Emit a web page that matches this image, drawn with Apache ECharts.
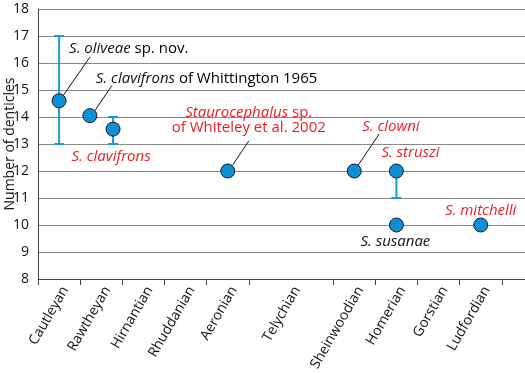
<!DOCTYPE html>
<html><head><meta charset="utf-8">
<script src="https://cdn.jsdelivr.net/npm/echarts@6/dist/echarts.min.js"></script>
<style>html,body{margin:0;padding:0;background:#fff}#c{width:525px;height:373px}</style>
</head><body><div id="c"></div>
<script>
// ---- data ----
var stages = ['Cautleyan','Rawtheyan','Hirnantian','Rhuddanian','Aeronian','Telychian','Sheinwoodian','Homerian','Gorstian','Ludfordian'];
var stageBounds = [0,1,2,3,4,5,7,8,9,10,11];        // stage boundaries (axis units; Telychian spans two)
var stageCenters = [0.5,1.5,2.5,3.5,4.5,6,7.5,8.5,9.5,10.5];
var yTicks = [8,9,10,11,12,13,14,15,16,17,18];
var taxa = ['S. oliveae sp. nov.','S. clavifrons of Whittington 1965','S. clavifrons','Staurocephalus sp. of Whiteley et al. 2002','S. clowni','S. struszi','S. susanae','S. mitchelli'];
var taxonX = [0.5,1.23,1.78,4.5,7.5,8.5,8.5,10.5];
var denticles = [14.6,14.05,13.55,12,12,12,10,10];
var errLow  = [13,null,13,null,null,11,null,null];
var errHigh = [17,null,14,null,null,12,null,null];

// ---- label styling (pixel offsets from the point) ----
var RED = '#ec1c24', BLK = '#111';
var labelStyle = [
  {text:'{ib|S. oliveae} sp. nov.', dx:10, dy:-52, align:'left', line:[4,-5,31,-44]},
  {text:'{ib|S. clavifrons} of Whittington 1965', dx:6, dy:-37, align:'left', line:[5,-5,22,-30]},
  {text:'{ir|S. clavifrons}', dx:-2, dy:28, align:'center', red:true},
  {text:'{ir|Staurocephalus}{r| sp.}\n{r|of Whiteley et al. 2002}', dx:21, dy:-51, align:'center', red:true, line:[5,-6,21,-30]},
  {text:'{ir|S. clowni}', dx:8, dy:-44, align:'left', red:true, line:[4,-6,25,-37]},
  {text:'{ir|S. struszi}', dx:-15, dy:-18, align:'left', red:true},
  {text:'{ib|S. susanae}', dx:-1, dy:17, align:'center'},
  {text:'{ir|S. mitchelli}', dx:0, dy:-14, align:'center', red:true}
];
var FONT = '"Open Sans", sans-serif';
var FS = 15;
var rich = {
  ib:{fontStyle:'italic', fill:BLK, color:BLK, fontSize:FS, fontFamily:FONT, lineHeight:15},
  ir:{fontStyle:'italic', fill:RED, color:RED, fontSize:FS, fontFamily:FONT, lineHeight:15},
  r:{fill:RED, color:RED, fontSize:FS, fontFamily:FONT, lineHeight:15}
};

var pts = taxonX.map(function(x,i){return [x, denticles[i]];});
var errData = [];
taxonX.forEach(function(x,i){ if(errLow[i]!=null) errData.push([x, errLow[i], errHigh[i]]); });

var chart = echarts.init(document.getElementById('c'));
chart.setOption({
  animation:false,
  grid:{left:38, right:0, top:9, bottom:94, outerBoundsMode:'none', containLabel:false},
  xAxis:{
    type:'value', min:0, max:11.55,
    axisLine:{show:true, lineStyle:{color:'#444', width:1}},
    axisTick:{show:true, customValues:stageBounds, length:6, lineStyle:{color:'#444'}},
    axisLabel:{customValues:stageCenters, rotate:60, margin:5, verticalAlign:'top', fontSize:14, fontFamily:FONT, color:'#111',
      formatter:function(v){ var i = stageCenters.indexOf(v); return i>=0 ? stages[i] : ''; }},
    splitLine:{show:false}
  },
  yAxis:{
    type:'value', min:yTicks[0], max:yTicks[yTicks.length-1], interval:1,
    name:'Number of denticles', nameLocation:'middle', nameGap:21, nameMoveOverlap:false,
    nameTextStyle:{fontSize:14, fontFamily:FONT, color:'#111'},
    axisLine:{show:true, lineStyle:{color:'#444'}},
    axisTick:{show:false},
    axisLabel:{fontSize:14, fontFamily:FONT, color:'#111', margin:9},
    splitLine:{show:true, lineStyle:{color:'#8a8a8a', width:1}}
  },
  series:[
    {
      type:'custom', z:2,
      data:errData,
      renderItem:function(params, api){
        var lo = api.coord([api.value(0), api.value(1)]);
        var hi = api.coord([api.value(0), api.value(2)]);
        var w = 5, st = {stroke:'#1c9ad6', lineWidth:2};
        return {type:'group', children:[
          {type:'line', shape:{x1:lo[0],y1:lo[1],x2:hi[0],y2:hi[1]}, style:st},
          {type:'line', shape:{x1:lo[0]-w,y1:lo[1],x2:lo[0]+w,y2:lo[1]}, style:st},
          {type:'line', shape:{x1:hi[0]-w,y1:hi[1],x2:hi[0]+w,y2:hi[1]}, style:st}
        ]};
      }
    },
    {
      type:'custom', z:3,
      data:pts,
      renderItem:function(params, api){
        var p = api.coord([api.value(0), api.value(1)]);
        var s = labelStyle[params.dataIndex];
        var ch = [];
        if(s.line){
          ch.push({type:'line', shape:{x1:p[0]+s.line[0],y1:p[1]+s.line[1],x2:p[0]+s.line[2],y2:p[1]+s.line[3]},
            style:{stroke:'#111', lineWidth:1}});
        }
        ch.push({type:'text', x:p[0]+s.dx, y:p[1]+s.dy,
          style:{text:s.text, rich:rich, align:s.align, verticalAlign:'middle', fontSize:FS, fontFamily:FONT}});
        return {type:'group', children:ch};
      }
    },
    {
      type:'scatter', z:4,
      data:pts, symbol:'circle', symbolSize:14,
      itemStyle:{color:'#0b8fd6', borderColor:'#1a1a1a', borderWidth:1, opacity:1}
    }
  ]
});
</script></body></html>
